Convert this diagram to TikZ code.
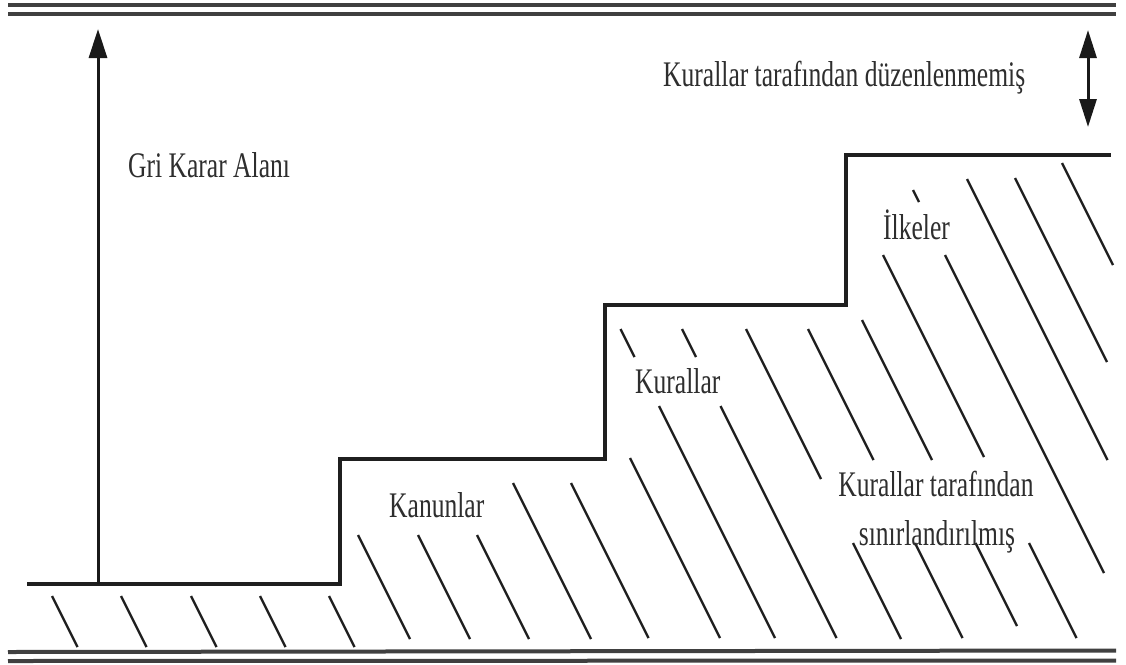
\documentclass[tikz,border=0pt]{standalone}
\usepackage{fontspec}
\setmainfont{Liberation Serif}[FakeStretch=0.71]
\usetikzlibrary{arrows.meta}
\begin{document}
\begin{tikzpicture}[x=1pt,y=-1pt,
  rule/.style={line width=4pt,black!75},
  stepline/.style={line width=3.6pt,black!88,line join=miter},
  hatch/.style={line width=2.4pt,black!88},
  shaft/.style={line width=3pt,black!90},
  lbl/.style={inner sep=0pt,anchor=base west,text=black!82,font=\fontsize{36}{42}\selectfont},
  lblc/.style={lbl,anchor=base}]
\useasboundingbox (0,0) rectangle (1126,664);
\fill[white] (0,0) rectangle (1126,664);
% frame rules
\draw[rule] (8,5) -- (1116,5);
\draw[rule] (8,14) -- (1116,14);
\draw[rule] (8,652) -- (1116,650.5);
\draw[rule] (8,661) -- (1116,660.5);
% step line
\draw[stepline] (27,584) -- (340,584) -- (340,459) -- (605,459) -- (605,305) -- (846,305) -- (846,155) -- (1111,155);
% hatching: x0 / y start / y end  (x = x0 + y/2)
\foreach \a/\b/\c in {-246/596/647,-177/596/647,-107/596/647,-38/596/647,31/596/647,
  90.5/535/639,150.5/535/639,209.5/535/639,271.5/483/639,329.5/483/638,401/458/638,
  456/329/357,456/406/638,517.5/329/357,517.5/406/638,
  581.5/329/479,581.5/543/639,643.5/329/460,643.5/543/638,
  702/320/460,704/543/626,755.5/255/457,757.5/543/638,
  818/190/202,817.5/255/573,877.5/179/460,926/178/362,980.5/163/265}
  \draw[hatch] ({\a+\b/2},\b) -- ({\a+\c/2},\c);
% arrows
\coordinate (a0) at (98,584);
\coordinate (a1) at (98,29);
\draw[shaft,-{Triangle[length=29pt,width=18pt]}] (a0) -- (a1);
\coordinate (d0) at (1088,30);
\coordinate (d1) at (1088,127);
\draw[shaft,{Triangle[length=28pt,width=17pt]}-{Triangle[length=28pt,width=17pt]}] (d0) -- (d1);
% labels
\node[lbl] (duz) at (663,86) {Kurallar tarafından düzenlenmemiş};
\node[lbl] (gri) at (128,177) {Gri Karar Alanı};
\node[lbl] (ilke) at (883,239) {İlkeler};
\node[lbl] (kural) at (635,393) {Kurallar};
\node[lbl] (kanun) at (389,517) {Kanunlar};
\node[lblc] (kt) at (936,496) {Kurallar tarafından};
\node[lblc] (sl) at (937,545) {sınırlandırılmış};
\end{tikzpicture}
\end{document}
